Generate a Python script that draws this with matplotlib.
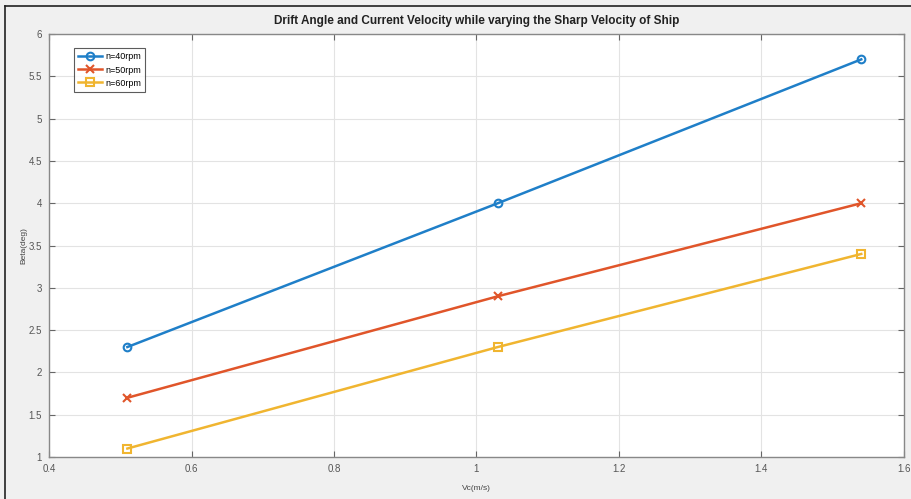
import matplotlib
matplotlib.use("Agg")
import matplotlib.pyplot as plt
from matplotlib.lines import Line2D

plt.rcParams['font.family'] = ['Liberation Sans', 'DejaVu Sans']

vc = [0.51, 1.03, 1.54]
beta_40 = [2.3, 4.0, 5.7]
beta_50 = [1.7, 2.9, 4.0]
beta_60 = [1.1, 2.3, 3.4]
labels = ['n=40rpm', 'n=50rpm', 'n=60rpm']
xticks = [0.4, 0.6, 0.8, 1.0, 1.2, 1.4, 1.6]
xticklabels = ['0.4', '0.6', '0.8', '1', '1.2', '1.4', '1.6']
yticks = [1, 1.5, 2, 2.5, 3, 3.5, 4, 4.5, 5, 5.5, 6]
yticklabels = ['1', '1.5', '2', '2.5', '3', '3.5', '4', '4.5', '5', '5.5', '6']

W, H = 912, 499
fig = plt.figure(figsize=(W / 100, H / 100), dpi=100, facecolor='#f0f0f0')
ax = fig.add_axes([49 / W, 1 - 457 / H, (904 - 49) / W, (457 - 34) / H])
ax.set_facecolor('white')

# outer frame (top and left edges only visible)
fig.lines.append(Line2D([5.5 / W, 5.5 / W], [0, 1 - 5.5 / H], transform=fig.transFigure,
                        color='#222222', linewidth=1.2))
fig.lines.append(Line2D([5.5 / W, 1], [1 - 5.5 / H, 1 - 5.5 / H], transform=fig.transFigure,
                        color='#222222', linewidth=1.2))

colors = ['#1f7fc8', '#e0552a', '#f0b530']
markers = ['o', 'x', 's']
for ys, c, m, lab in zip([beta_40, beta_50, beta_60], colors, markers, labels):
    ax.plot(vc, ys, color=c, marker=m, linewidth=1.8, markersize=5.5,
            markerfacecolor='none', markeredgewidth=1.5, label=lab)

ax.set_xlim(0.4, 1.6)
ax.set_ylim(1, 6)
ax.set_xticks(xticks)
ax.set_xticklabels(xticklabels)
ax.set_yticks(yticks)
ax.set_yticklabels(yticklabels)
ax.grid(True, color='#e3e3e3', linewidth=0.8)
ax.set_axisbelow(True)
ax.tick_params(direction='in', top=True, right=True, length=4, width=0.8,
               colors='#666666', labelsize=7, labelcolor='#555555', pad=5)
for s in ax.spines.values():
    s.set_color('#888888')
    s.set_linewidth(1.0)

ax.set_title('Drift Angle and Current Velocity while varying the Sharp Velocity of Ship',
             fontsize=8.5, fontweight='bold', color='#222222', pad=7)
ax.set_xlabel('Vc(m/s)', fontsize=6, color='#444444', labelpad=8)
ax.set_ylabel('Beta(deg)', fontsize=6, color='#444444', labelpad=1)

leg = ax.legend(loc='upper left', bbox_to_anchor=(0.029, 0.966), fontsize=6.5,
                frameon=True, fancybox=False, edgecolor='#333333', handlelength=2.7,
                handletextpad=0.3, borderpad=0.45, labelspacing=0.45, borderaxespad=0)
leg.get_frame().set_linewidth(0.8)

fig.savefig('out.png', dpi=100, facecolor=fig.get_facecolor())
